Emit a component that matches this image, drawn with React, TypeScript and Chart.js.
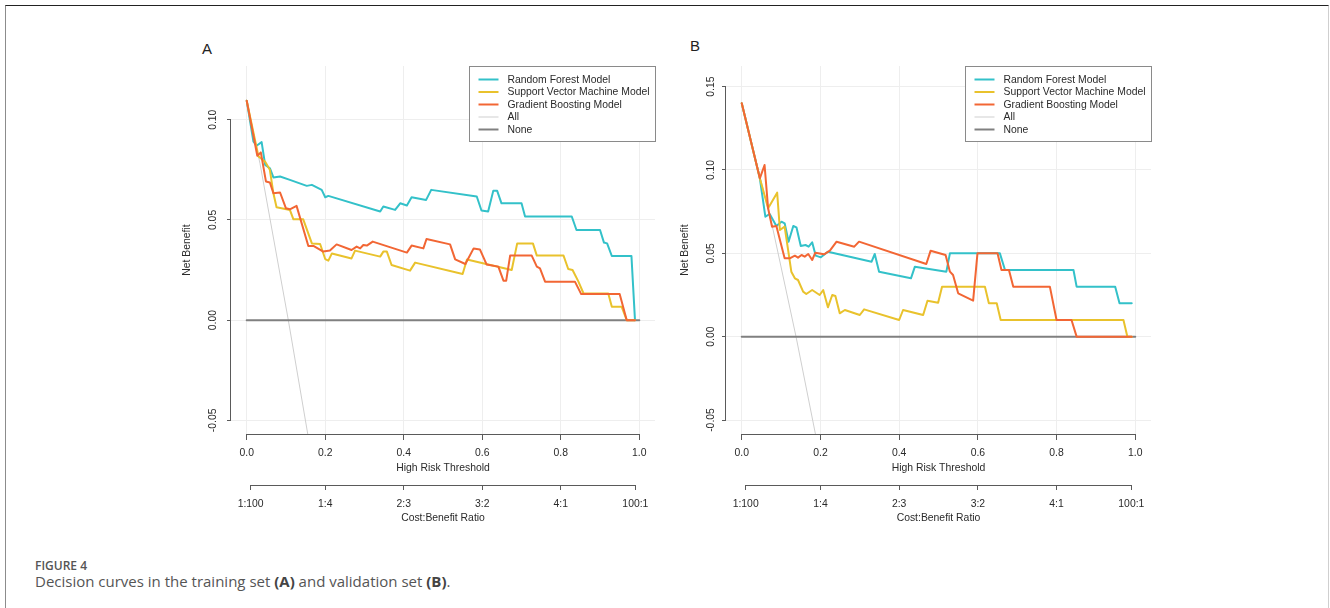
import React, { useEffect, useRef } from 'react';
import { Chart, registerables } from 'chart.js';

Chart.register(...registerables);

// ---------------- data ----------------
const seriesNames = ['Random Forest Model', 'Support Vector Machine Model', 'Gradient Boosting Model', 'All', 'None'];
const seriesColors = ['#33C1C9', '#E9C22C', '#F26634', '#CFCFCF', '#808080'];

const xTickValues = [0, 0.2, 0.4, 0.6, 0.8, 1.0];
const xTickLabels = ['0.0', '0.2', '0.4', '0.6', '0.8', '1.0'];
const costTickValues = [0.01, 0.2, 0.4, 0.6, 0.8, 0.99];
const costTickLabels = ['1:100', '1:4', '2:3', '3:2', '4:1', '100:1'];
const yTickValuesA = [-0.05, 0, 0.05, 0.1];
const yTickLabelsA = ['-0.05', '0.00', '0.05', '0.10'];
const yTickValuesB = [-0.05, 0, 0.05, 0.1, 0.15];
const yTickLabelsB = ['-0.05', '0.00', '0.05', '0.10', '0.15'];

// Panel A (training set)
const rfA_t = [0, 0.017, 0.025, 0.038, 0.047, 0.059, 0.068, 0.085, 0.110, 0.153, 0.166, 0.191, 0.200, 0.208, 0.340, 0.348, 0.378, 0.391, 0.408, 0.420, 0.457, 0.470, 0.586, 0.598, 0.615, 0.628, 0.638, 0.649, 0.700, 0.709, 0.828, 0.840, 0.900, 0.910, 0.918, 0.930, 0.980, 0.989];
const rfA_nb = [0.1095, 0.0892, 0.0870, 0.0888, 0.0775, 0.0758, 0.0712, 0.0717, 0.0700, 0.0670, 0.0675, 0.0650, 0.0613, 0.0620, 0.0542, 0.0567, 0.0550, 0.0583, 0.0572, 0.0613, 0.0600, 0.0650, 0.0617, 0.0547, 0.0542, 0.0645, 0.0645, 0.0583, 0.0583, 0.0517, 0.0517, 0.0450, 0.0450, 0.0387, 0.0383, 0.0320, 0.0320, 0.0000];
const svmA_t = [0, 0.030, 0.047, 0.059, 0.068, 0.076, 0.098, 0.110, 0.119, 0.144, 0.166, 0.187, 0.200, 0.208, 0.217, 0.267, 0.276, 0.340, 0.348, 0.357, 0.369, 0.416, 0.429, 0.550, 0.561, 0.675, 0.689, 0.729, 0.739, 0.807, 0.819, 0.830, 0.845, 0.858, 0.921, 0.930, 0.955, 0.968, 0.989];
const svmA_nb = [0.1095, 0.0817, 0.0790, 0.0750, 0.0633, 0.0563, 0.0555, 0.0550, 0.0503, 0.0503, 0.0383, 0.0380, 0.0305, 0.0297, 0.0333, 0.0308, 0.0347, 0.0317, 0.0342, 0.0342, 0.0275, 0.0247, 0.0287, 0.0230, 0.0303, 0.0250, 0.0383, 0.0383, 0.0322, 0.0322, 0.0255, 0.0250, 0.0192, 0.0133, 0.0133, 0.0067, 0.0067, 0, 0];
const gbA_t = [0, 0.027, 0.036, 0.049, 0.059, 0.068, 0.085, 0.100, 0.110, 0.127, 0.157, 0.170, 0.195, 0.212, 0.229, 0.267, 0.280, 0.289, 0.297, 0.306, 0.321, 0.408, 0.420, 0.450, 0.458, 0.518, 0.531, 0.557, 0.578, 0.594, 0.611, 0.641, 0.654, 0.661, 0.671, 0.726, 0.739, 0.747, 0.760, 0.836, 0.852, 0.950, 0.968, 0.989];
const gbA_nb = [0.1095, 0.0820, 0.0837, 0.0692, 0.0687, 0.0633, 0.0637, 0.0558, 0.0553, 0.0570, 0.0370, 0.0370, 0.0342, 0.0347, 0.0378, 0.0350, 0.0367, 0.0358, 0.0375, 0.0372, 0.0392, 0.0337, 0.0372, 0.0358, 0.0405, 0.0378, 0.0303, 0.0280, 0.0358, 0.0353, 0.0278, 0.0267, 0.0197, 0.0197, 0.0322, 0.0322, 0.0267, 0.0258, 0.0192, 0.0192, 0.0130, 0.0130, 0, 0];
const allA_t = [0, 0.034, 0.106, 0.160];
const allA_nb = [0.1095, 0.078, 0, -0.062];
const noneA_t = [0, 1];
const noneA_nb = [0, 0];

// Panel B (validation set)
const rfB_t = [0, 0.046, 0.060, 0.071, 0.082, 0.088, 0.101, 0.109, 0.119, 0.131, 0.139, 0.150, 0.162, 0.170, 0.179, 0.188, 0.201, 0.219, 0.330, 0.338, 0.349, 0.430, 0.440, 0.520, 0.529, 0.656, 0.669, 0.843, 0.851, 0.949, 0.960, 0.991];
const rfB_nb = [0.140, 0.095, 0.072, 0.0736, 0.069, 0.0664, 0.069, 0.068, 0.057, 0.0664, 0.0656, 0.0544, 0.055, 0.054, 0.0566, 0.0486, 0.0476, 0.051, 0.045, 0.0496, 0.039, 0.035, 0.042, 0.039, 0.050, 0.050, 0.040, 0.040, 0.030, 0.030, 0.020, 0.020];
const svmB_t = [0, 0.046, 0.067, 0.090, 0.097, 0.109, 0.126, 0.135, 0.143, 0.156, 0.164, 0.179, 0.198, 0.207, 0.219, 0.230, 0.238, 0.249, 0.262, 0.300, 0.311, 0.400, 0.410, 0.461, 0.472, 0.499, 0.509, 0.618, 0.628, 0.648, 0.658, 0.970, 0.980, 0.991];
const svmB_nb = [0.140, 0.095, 0.077, 0.0864, 0.064, 0.066, 0.039, 0.035, 0.034, 0.027, 0.0256, 0.028, 0.025, 0.028, 0.0176, 0.025, 0.0244, 0.014, 0.016, 0.013, 0.0164, 0.010, 0.016, 0.013, 0.0216, 0.0204, 0.030, 0.030, 0.020, 0.020, 0.010, 0.010, 0, 0];
const gbB_t = [0, 0.046, 0.058, 0.067, 0.077, 0.088, 0.109, 0.122, 0.135, 0.143, 0.152, 0.160, 0.169, 0.179, 0.187, 0.209, 0.224, 0.241, 0.286, 0.298, 0.469, 0.480, 0.518, 0.529, 0.537, 0.550, 0.588, 0.599, 0.650, 0.660, 0.679, 0.690, 0.783, 0.800, 0.838, 0.851, 0.991];
const gbB_nb = [0.140, 0.095, 0.103, 0.077, 0.066, 0.0664, 0.047, 0.047, 0.0486, 0.0474, 0.049, 0.048, 0.0496, 0.046, 0.0504, 0.0494, 0.0516, 0.057, 0.054, 0.057, 0.0436, 0.0516, 0.049, 0.039, 0.037, 0.026, 0.0216, 0.050, 0.050, 0.040, 0.040, 0.030, 0.030, 0.010, 0.010, 0, 0];
const allB_t = [0, 0.077, 0.138, 0.192];
const allB_nb = [0.140, 0.067, 0, -0.064];
const noneB_t = [0, 1];
const noneB_nb = [0, 0];

// ---------------- helpers ----------------
const FONT_FAMILY = '"Liberation Sans", Arial, Helvetica, sans-serif';
const FONT_SIZE = 10.4;
const TEXT_COLOR = '#2a2a2a';
const AXIS_COLOR = '#5a5a5a';

const zip = (t: number[], v: number[]) => t.map((x, i) => ({ x, y: v[i] }));

const rAxesPlugin = {
  id: 'rAxes',
  afterDraw(chart: any, _args: any, opts: any) {
    const { ctx, chartArea, scales } = chart;
    const x = scales.x;
    const x2 = scales.x2;
    const y = scales.y;
    ctx.save();
    ctx.strokeStyle = AXIS_COLOR;
    ctx.lineWidth = 1;
    ctx.beginPath();
    const xv = opts.xTicks as number[];
    ctx.moveTo(x.getPixelForValue(xv[0]), x.top + 0.5);
    ctx.lineTo(x.getPixelForValue(xv[xv.length - 1]), x.top + 0.5);
    const cv = opts.costTicks as number[];
    ctx.moveTo(x2.getPixelForValue(cv[0]), x2.top + 0.5);
    ctx.lineTo(x2.getPixelForValue(cv[cv.length - 1]), x2.top + 0.5);
    const yv = opts.yTicks as number[];
    const ax = chartArea.left - 0.5;
    ctx.moveTo(ax, y.getPixelForValue(yv[0]));
    ctx.lineTo(ax, y.getPixelForValue(yv[yv.length - 1]));
    ctx.stroke();

    ctx.fillStyle = TEXT_COLOR;
    ctx.font = `${FONT_SIZE}px ${FONT_FAMILY}`;
    ctx.textAlign = 'center';
    ctx.textBaseline = 'middle';
    yv.forEach((v: number, i: number) => {
      ctx.save();
      ctx.translate(chartArea.left - opts.yLabelOffset, y.getPixelForValue(v));
      ctx.rotate(-Math.PI / 2);
      ctx.fillText(opts.yLabels[i], 0, 0);
      ctx.restore();
    });
    ctx.restore();
  },
};

const rLegendPlugin = {
  id: 'rLegend',
  afterDraw(chart: any) {
    const { ctx, chartArea } = chart;
    const ds = chart.data.datasets;
    ctx.save();
    ctx.font = `${FONT_SIZE}px ${FONT_FAMILY}`;
    const maxW = Math.max(...ds.map((d: any) => ctx.measureText(d.label).width));
    const textOffset = 38;
    const rowH = 12.5;
    const padTop = 13;
    const padBottom = 12;
    const w = Math.round(textOffset + maxW + 6);
    const h = padTop + (ds.length - 1) * rowH + padBottom;
    const left = Math.round(chartArea.right - w) + 0.5;
    const top = Math.round(chartArea.top) + 0.5;
    ctx.fillStyle = '#ffffff';
    ctx.fillRect(left, top, w, h);
    ctx.strokeStyle = '#8a8a8a';
    ctx.lineWidth = 1;
    ctx.strokeRect(left, top, w, h);
    ds.forEach((d: any, i: number) => {
      const cy = top + padTop + i * rowH;
      ctx.strokeStyle = d.borderColor;
      ctx.lineWidth = d.borderWidth;
      ctx.beginPath();
      ctx.moveTo(left + 9, cy);
      ctx.lineTo(left + 29, cy);
      ctx.stroke();
      ctx.fillStyle = TEXT_COLOR;
      ctx.textAlign = 'left';
      ctx.textBaseline = 'middle';
      ctx.fillText(d.label, left + textOffset, cy + 0.5);
    });
    ctx.restore();
  },
};

type PanelProps = {
  left: number;
  top: number;
  width: number;
  height: number;
  padRight: number;
  yMin: number;
  yMax: number;
  yTicks: number[];
  yLabels: string[];
  yLabelOffset: number;
  titlePad: number;
  series: { t: number[]; nb: number[] }[];
};

function DcaPanel(p: PanelProps) {
  const ref = useRef<HTMLCanvasElement>(null);
  useEffect(() => {
    if (!ref.current) return;
    const font = { family: FONT_FAMILY, size: FONT_SIZE };
    const widths = [2, 2, 2, 1, 2];
    const orders = [2, 1, 0, 4, 3];
    const chart = new Chart(ref.current, {
      type: 'line',
      data: {
        datasets: p.series.map((s, i) => ({
          label: seriesNames[i],
          data: zip(s.t, s.nb),
          borderColor: seriesColors[i],
          backgroundColor: seriesColors[i],
          borderWidth: widths[i],
          pointRadius: 0,
          tension: 0,
          fill: false,
          order: orders[i],
          borderJoinStyle: 'round',
          borderCapStyle: 'round',
          xAxisID: 'x',
          yAxisID: 'y',
        })),
      },
      options: {
        responsive: false,
        animation: false,
        events: [],
        layout: { padding: { top: 36, right: p.padRight, left: 0, bottom: 0 } },
        plugins: {
          legend: { display: false },
          tooltip: { enabled: false },
          rAxes: {
            xTicks: xTickValues,
            costTicks: costTickValues,
            yTicks: p.yTicks,
            yLabels: p.yLabels,
            yLabelOffset: p.yLabelOffset,
          },
        } as any,
        scales: {
          x: {
            type: 'linear',
            position: 'bottom',
            min: -0.04,
            max: 1.04,
            weight: 0,
            afterBuildTicks: (s: any) => {
              s.ticks = xTickValues.map((v) => ({ value: v }));
            },
            afterFit: (s: any) => {
              s.height = 51;
            },
            ticks: {
              autoSkip: false,
              maxRotation: 0,
              minRotation: 0,
              padding: 7,
              color: TEXT_COLOR,
              font,
              callback: (_v: any, i: number) => xTickLabels[i],
            },
            grid: { color: '#EEEEEE', lineWidth: 1, drawTicks: true, tickLength: 6, tickColor: AXIS_COLOR, tickWidth: 1 },
            border: { display: false },
            title: { display: true, text: 'High Risk Threshold', color: TEXT_COLOR, font, padding: { top: 0, bottom: 11 } },
          },
          x2: {
            type: 'linear',
            position: 'bottom',
            min: -0.04,
            max: 1.04,
            weight: 1,
            afterBuildTicks: (s: any) => {
              s.ticks = costTickValues.map((v) => ({ value: v }));
            },
            afterFit: (s: any) => {
              s.height = 45;
            },
            ticks: {
              autoSkip: false,
              maxRotation: 0,
              minRotation: 0,
              padding: 8,
              color: TEXT_COLOR,
              font,
              callback: (_v: any, i: number) => costTickLabels[i],
            },
            grid: { drawOnChartArea: false, drawTicks: true, tickLength: 5, tickColor: AXIS_COLOR, tickWidth: 1 },
            border: { display: false },
            title: { display: true, text: 'Cost:Benefit Ratio', color: TEXT_COLOR, font, padding: { top: 0, bottom: 6 } },
          },
          y: {
            type: 'linear',
            position: 'left',
            min: p.yMin,
            max: p.yMax,
            afterBuildTicks: (s: any) => {
              s.ticks = p.yTicks.map((v) => ({ value: v }));
            },
            afterFit: (s: any) => {
              s.width = 61;
            },
            ticks: { display: false },
            grid: { color: '#EEEEEE', lineWidth: 1, drawTicks: true, tickLength: 4, tickColor: AXIS_COLOR, tickWidth: 1 },
            border: { display: false },
            title: { display: true, text: 'Net Benefit', color: TEXT_COLOR, font, padding: { top: p.titlePad, bottom: 0 } },
          },
        } as any,
      },
      plugins: [rAxesPlugin, rLegendPlugin],
    } as any);
    return () => chart.destroy();
  }, []);
  return (
    <canvas
      ref={ref}
      width={p.width}
      height={p.height}
      style={{ position: 'absolute', left: p.left, top: p.top, width: p.width, height: p.height }}
    />
  );
}

const panelA = [
  { t: rfA_t, nb: rfA_nb },
  { t: svmA_t, nb: svmA_nb },
  { t: gbA_t, nb: gbA_nb },
  { t: allA_t, nb: allA_nb },
  { t: noneA_t, nb: noneA_nb },
];
const panelB = [
  { t: rfB_t, nb: rfB_nb },
  { t: svmB_t, nb: svmB_nb },
  { t: gbB_t, nb: gbB_nb },
  { t: allB_t, nb: allB_nb },
  { t: noneB_t, nb: noneB_nb },
];

export default function App() {
  const letter: React.CSSProperties = {
    position: 'absolute',
    fontFamily: FONT_FAMILY,
    fontSize: 15,
    lineHeight: '15px',
    color: '#222',
  };
  return (
    <div style={{ position: 'absolute', left: 0, top: 0, width: 1330, height: 608, background: '#fff', overflow: 'hidden' }}>
      <div
        style={{
          position: 'absolute',
          left: 5,
          top: 5,
          width: 1322,
          height: 640,
          borderTop: '1px solid #222',
          borderLeft: '1px solid #8c8c8c',
          borderRight: '1px solid #cfcfcf',
        }}
      />
      <div style={{ ...letter, left: 202, top: 41 }}>A</div>
      <div style={{ ...letter, left: 690, top: 38 }}>B</div>
      <DcaPanel
        left={170}
        top={30}
        width={500}
        height={500}
        padRight={15}
        yMin={-0.0568}
        yMax={0.1268}
        yTicks={yTickValuesA}
        yLabels={yTickLabelsA}
        yLabelOffset={18}
        titlePad={11}
        series={panelA}
      />
      <DcaPanel
        left={665}
        top={30}
        width={500}
        height={500}
        padRight={14}
        yMin={-0.0584}
        yMax={0.1624}
        yTicks={yTickValuesB}
        yLabels={yTickLabelsB}
        yLabelOffset={15}
        titlePad={14}
        series={panelB}
      />
      <div
        style={{
          position: 'absolute',
          left: 35,
          top: 560,
          fontFamily: '"Open Sans", sans-serif',
          fontWeight: 600,
          fontSize: 12,
          lineHeight: '12px',
          color: '#555',
        }}
      >
        FIGURE 4
      </div>
      <div
        style={{
          position: 'absolute',
          left: 35,
          top: 574,
          fontFamily: '"Open Sans", sans-serif',
          fontWeight: 400,
          fontSize: 15,
          lineHeight: '15px',
          color: '#555',
          whiteSpace: 'nowrap',
        }}
      >
        Decision curves in the training set <b style={{ color: '#444' }}>(A)</b> and validation set{' '}
        <b style={{ color: '#444' }}>(B)</b>.
      </div>
    </div>
  );
}
